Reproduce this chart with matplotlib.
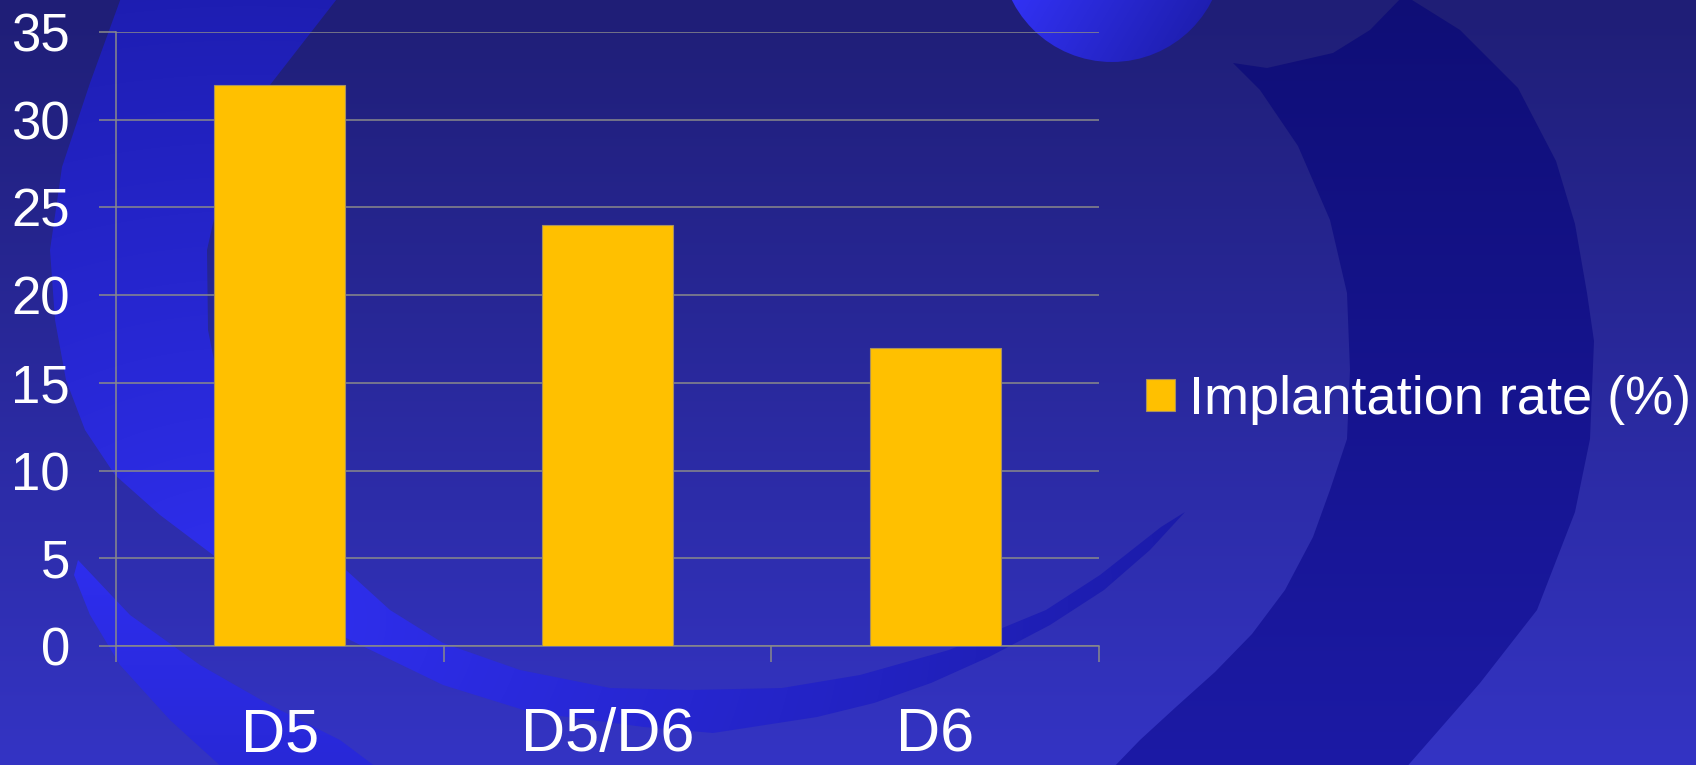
import numpy as np
import matplotlib
matplotlib.use('Agg')
import matplotlib.pyplot as plt
from matplotlib.patches import Polygon, Circle

# ---------------- data ----------------
categories = ['D5', 'D5/D6', 'D6']
implantation_rate = [32, 24, 17]
series_label = 'Implantation rate (%)'
y_ticks = [0, 5, 10, 15, 20, 25, 30, 35]

# ---------------- figure ----------------
W, H = 1696, 765
plt.rcParams['font.family'] = ['Liberation Sans', 'DejaVu Sans']
fig = plt.figure(figsize=(W / 100, H / 100), dpi=100)

# ---------------- decorative slide background ----------------
bg = fig.add_axes([0, 0, 1, 1], zorder=0)
bg.set_xlim(0, W)
bg.set_ylim(H, 0)
bg.axis('off')

yy, xx = np.mgrid[0:H, 0:W] + 0.5


def blend(c0, c1, t):
    c0 = np.array(c0, float) / 255
    c1 = np.array(c1, float) / 255
    t = np.clip(t, 0, 1)[..., None]
    return c0 * (1 - t) + c1 * t


ext = (0, W, H, 0)
base = blend((31, 30, 118), (52, 52, 196), yy / H)
bg.imshow(base, extent=ext, zorder=0, interpolation='bilinear')


def clipped_field(field, pts, z):
    im = bg.imshow(field, extent=ext, zorder=z, interpolation='bilinear')
    poly = Polygon(pts, closed=True, facecolor='none', edgecolor='none')
    bg.add_patch(poly)
    im.set_clip_path(poly)


# bright crescent on the left curving along the bottom
outer = [(122, -5), (90, 83), (62, 167), (50, 250), (55, 320), (66, 380), (85, 430),
         (115, 475), (160, 515), (213, 555), (280, 600), (350, 640), (443, 685),
         (530, 712), (644, 727), (713, 733), (817, 717), (874, 703), (931, 683),
         (989, 657), (1050, 625), (1104, 590), (1150, 550), (1185, 512)]
inner = [(1161, 527), (1100, 575), (1046, 610), (949, 650), (860, 675), (782, 688),
         (690, 690), (610, 688), (520, 670), (443, 643), (390, 610), (346, 570),
         (300, 520), (255, 460), (222, 400), (208, 330), (207, 250), (225, 170),
         (270, 85), (340, -5)]
tt = np.hypot((xx - 250) / 1000.0, (yy - 620) / 750.0)
field = blend((48, 48, 242), (26, 26, 165), tt)
clipped_field(field, outer + inner, 1)

# thin bright band lower-left
thin = [(78, 560), (130, 615), (200, 665), (270, 705), (340, 740), (380, 770),
        (225, 770), (170, 720), (120, 665), (90, 615), (74, 575)]
field2 = blend((46, 46, 238), (40, 40, 215), (yy - 560) / 210)
clipped_field(field2, thin, 1)

# dark crescent on the right
dark = [(1233, 63), (1260, 90), (1298, 146), (1330, 220), (1347, 293), (1350, 370),
        (1347, 439), (1330, 490), (1313, 537), (1285, 590), (1252, 634), (1215, 672),
        (1176, 707), (1140, 740), (1111, 770), (1404, 770), (1480, 683), (1537, 610),
        (1575, 512), (1590, 439), (1594, 341), (1587, 293), (1575, 224), (1556, 161),
        (1518, 88), (1460, 30), (1404, -5), (1370, 30), (1333, 53), (1267, 68)]
field3 = blend((15, 14, 118), (28, 26, 165), yy / H)
clipped_field(field3, dark, 1)

# bright circle at top
circ_field = blend((50, 50, 245), (28, 28, 168), ((xx - 1010) + 0.6 * (yy)) / 230)
imc = bg.imshow(circ_field, extent=ext, zorder=1, interpolation='bilinear')
circ = Circle((1112, -50), 112, facecolor='none', edgecolor='none')
bg.add_patch(circ)
imc.set_clip_path(circ)

# ---------------- chart ----------------
ax = fig.add_axes([116 / W, 1 - 646 / H, (1099 - 116) / W, (646 - 32) / H], zorder=2)
ax.set_facecolor('none')

grid_col = '#8a8a8a'
x = np.arange(len(categories))
bars = ax.bar(x, implantation_rate, width=0.4, color='#FFC000',
              edgecolor='#a89060', linewidth=0.8, label=series_label, zorder=3)

ax.set_xlim(-0.5, len(categories) - 0.5)
ax.set_ylim(0, 35)
ax.set_yticks(y_ticks)
ax.set_yticklabels([str(v) for v in y_ticks])
ax.yaxis.grid(True, color=grid_col, linewidth=1.1, zorder=1)
ax.set_axisbelow(True)

ax.set_xticks(x)
ax.set_xticklabels(categories)
ax.set_xticks(np.arange(len(categories) + 1) - 0.5, minor=True)

for s in ['top', 'right']:
    ax.spines[s].set_visible(False)
for s in ['left', 'bottom']:
    ax.spines[s].set_color(grid_col)
    ax.spines[s].set_linewidth(1.1)

ax.tick_params(axis='y', colors=grid_col, labelcolor='white', labelsize=38,
               length=12.2, width=1.1, pad=21)
ax.tick_params(axis='x', which='major', length=0, labelcolor='white',
               labelsize=44, pad=44)
ax.tick_params(axis='x', which='minor', length=11.5, width=1.1, color=grid_col)

leg = ax.legend(loc='center left', bbox_to_anchor=(1146 / W, 1 - 400 / H),
                bbox_transform=fig.transFigure, frameon=False, fontsize=39,
                handlelength=0.54, handleheight=0.54, handletextpad=0.25,
                borderpad=0, borderaxespad=0, labelcolor='white')

fig.savefig('out.png', dpi=100)
